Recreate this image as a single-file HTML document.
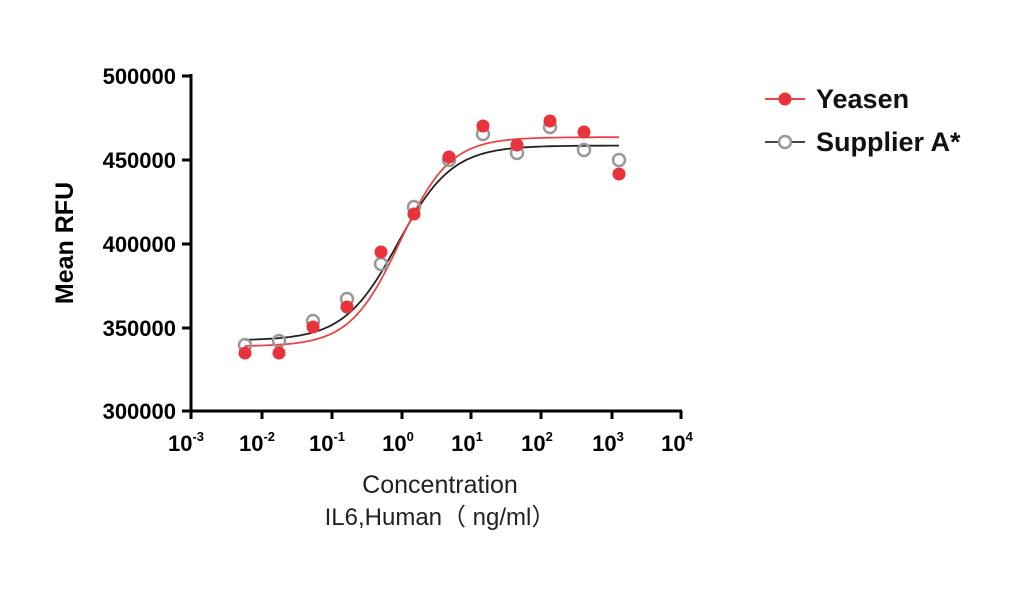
<!DOCTYPE html>
<html><head><meta charset="utf-8"><style>
body{margin:0;background:#fff;width:1024px;height:584px;overflow:hidden}
svg{font-family:"Liberation Sans",Arial,sans-serif}
</style></head><body>
<svg id="s" width="1024" height="584" xmlns="http://www.w3.org/2000/svg">
<g stroke="#000" stroke-width="3" fill="none">
<path d="M191,74 V411 H682"/>
<path d="M182,76H191M182,160H191M182,244H191M182,328H191M182,411H191"/>
<path d="M191,411v8M262,411v8M332,411v8M402,411v8M471,411v8M541,411v8M612,411v8M681,411v8"/>
</g>
<g font-size="22" font-weight="bold" text-anchor="end">
<text x="176" y="84">500000</text><text x="176" y="168">450000</text>
<text x="176" y="252">400000</text><text x="176" y="336">350000</text>
<text x="176" y="419">300000</text>
</g>
<g font-size="22" font-weight="bold" text-anchor="middle">
<text x="186" y="451">10<tspan font-size="13" dy="-10">-3</tspan></text>
<text x="257" y="451">10<tspan font-size="13" dy="-10">-2</tspan></text>
<text x="327" y="451">10<tspan font-size="13" dy="-10">-1</tspan></text>
<text x="398" y="451">10<tspan font-size="13" dy="-10">0</tspan></text>
<text x="467" y="451">10<tspan font-size="13" dy="-10">1</tspan></text>
<text x="537" y="451">10<tspan font-size="13" dy="-10">2</tspan></text>
<text x="608" y="451">10<tspan font-size="13" dy="-10">3</tspan></text>
<text x="677" y="451">10<tspan font-size="13" dy="-10">4</tspan></text>
</g>
<text x="440" y="493" font-size="25" text-anchor="middle" fill="#222">Concentration</text>
<text x="440" y="525" font-size="24" text-anchor="middle" fill="#222" style='font-family:"Liberation Sans","Noto Sans CJK SC",sans-serif'>IL6,Human（ ng/ml）</text>
<text transform="translate(73,243) rotate(-90)" font-size="25" font-weight="bold" text-anchor="middle">Mean RFU</text>
<path id="cb" fill="none" stroke="#222" stroke-width="1.8"/>
<path id="cr" fill="none" stroke="#e8454a" stroke-width="1.8"/>
<g id="pts"></g>
<line x1="765" y1="99" x2="805" y2="99" stroke="#e8454a" stroke-width="2"/>
<circle cx="785" cy="99" r="6.5" fill="#e8333a"/>
<line x1="765" y1="142" x2="805" y2="142" stroke="#444" stroke-width="2"/>
<circle cx="785" cy="142" r="6" fill="#fff" stroke="#999" stroke-width="2.5"/>
<text x="816" y="108" font-size="27" font-weight="bold" fill="#111">Yeasen</text>
<text x="816" y="151" font-size="27" font-weight="bold" fill="#111">Supplier A*</text>
</svg>
<script>
function y(v){return 411-(v-300000)*336/200000}
function curve(bot,top,x0,s){let d="";for(let x=245;x<=619;x+=2){let v=bot+(top-bot)/(1+Math.exp(-(x-x0)/s));d+=(x==245?"M":"L")+x+","+y(v).toFixed(1)}return d}
document.getElementById("cb").setAttribute("d",curve(342000,458000,398,27));
document.getElementById("cr").setAttribute("d",curve(338500,463000,400,25));
var xs=[245,279,313,347,381,414,449,483,517,550,584,619];
var gy=[345,341,321,299,264,207,160,134,153,127,150,160];
var ry=[353,353,327,307,252,214,157,126,145,121,132,174];
var h="";
for(var i=0;i<12;i++)h+='<circle cx="'+xs[i]+'" cy="'+gy[i]+'" r="6" fill="none" stroke="#999" stroke-width="2.5"/>';
for(var i=0;i<12;i++)h+='<circle cx="'+xs[i]+'" cy="'+ry[i]+'" r="6.5" fill="#e8333a"/>';
document.getElementById("pts").innerHTML=h;
</script>
</body></html>
